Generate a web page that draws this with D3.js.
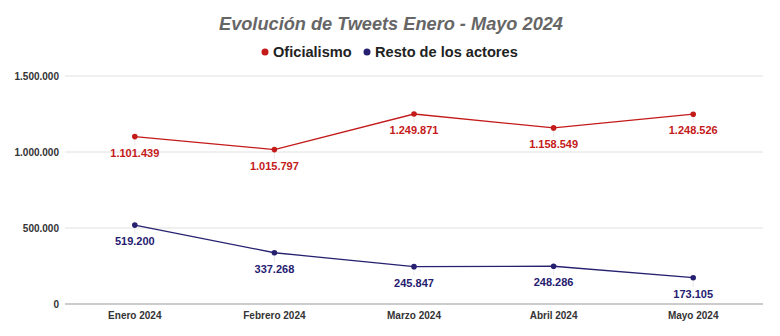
<!DOCTYPE html>
<html>
<head>
<meta charset="utf-8">
<script src="https://cdn.jsdelivr.net/npm/d3@7"></script>
<style>
  body { margin: 0; background: #fff; }
  svg { display: block; font-family: "Liberation Sans", Arial, sans-serif; }
</style>
</head>
<body>
<div id="chart"></div>
<script>
"use strict";

var months = ["Enero 2024", "Febrero 2024", "Marzo 2024", "Abril 2024", "Mayo 2024"];
var oficialismo = [1101439, 1015797, 1249871, 1158549, 1248526];
var restoActores = [519200, 337268, 245847, 248286, 173105];
var yTicks = [0, 500000, 1000000, 1500000];

var series = [
    { name: "Oficialismo", values: oficialismo, color: "#c41a1a" },
    { name: "Resto de los actores", values: restoActores, color: "#262070" }
];

var width = 780, height = 336;
var margin = { top: 76, right: 17, bottom: 32, left: 65 };

var svg = d3.select("#chart").append("svg")
    .attr("width", width)
    .attr("height", height);

// thousands separator with dots
var fmt = function (v) {
    return d3.format(",")(v).replace(/,/g, ".");
};

var x = d3.scaleBand()
    .domain(months)
    .range([margin.left, width - margin.right]);

var y = d3.scaleLinear()
    .domain([0, 1500000])
    .range([height - margin.bottom, margin.top]);

var cx = function (i) { return x(months[i]) + x.bandwidth() / 2; };

// title
svg.append("text")
    .attr("x", 391)
    .attr("y", 30)
    .attr("text-anchor", "middle")
    .attr("font-size", 18.2)
    .attr("font-weight", "bold")
    .attr("font-style", "italic")
    .attr("fill", "#666")
    .text("Evolución de Tweets Enero - Mayo 2024");

// legend
var legendItems = [
    { name: "Oficialismo", x: 265, color: "#c41a1a" },
    { name: "Resto de los actores", x: 367, color: "#262070" }
];
var lg = svg.selectAll("g.legend").data(legendItems).enter().append("g")
    .attr("class", "legend")
    .attr("transform", function (d) { return "translate(" + d.x + ",52)"; });
lg.append("circle").attr("r", 3.5).attr("fill", function (d) { return d.color; });
lg.append("text")
    .attr("x", 8)
    .attr("y", 5)
    .attr("font-size", 14.6)
    .attr("font-weight", "bold")
    .attr("fill", "#222")
    .text(function (d) { return d.name; });

// gridlines + y labels
var grid = svg.append("g");
grid.selectAll("line").data(yTicks).enter().append("line")
    .attr("x1", margin.left)
    .attr("x2", width - margin.right)
    .attr("y1", function (d) { return y(d); })
    .attr("y2", function (d) { return y(d); })
    .attr("stroke", function (d) { return d === 0 ? "#bbb" : "#e0e0e0"; })
    .attr("stroke-width", function (d) { return d === 0 ? 1.5 : 1; });
grid.selectAll("text").data(yTicks).enter().append("text")
    .attr("x", margin.left - 6)
    .attr("y", function (d) { return y(d) + 4; })
    .attr("text-anchor", "end")
    .attr("font-size", 10)
    .attr("font-weight", "bold")
    .attr("fill", "#333")
    .text(fmt);

// x axis labels
svg.append("g").selectAll("text").data(months).enter().append("text")
    .attr("x", function (d, i) { return cx(i); })
    .attr("y", height - margin.bottom + 15)
    .attr("text-anchor", "middle")
    .attr("font-size", 10)
    .attr("font-weight", "bold")
    .attr("fill", "#333")
    .text(function (d) { return d; });

var line = d3.line()
    .x(function (d, i) { return cx(i); })
    .y(function (d) { return y(d); });

series.forEach(function (s) {
    var g = svg.append("g");
    // faint leaders from point to value label
    g.selectAll("line.lead").data(s.values).enter().append("line")
        .attr("x1", function (d, i) { return cx(i); })
        .attr("x2", function (d, i) { return cx(i); })
        .attr("y1", function (d) { return y(d); })
        .attr("y2", function (d) { return y(d) + 9; })
        .attr("stroke", "#e8e8e8");
    g.append("path")
        .datum(s.values)
        .attr("fill", "none")
        .attr("stroke", s.color)
        .attr("stroke-width", 1.3)
        .attr("d", line);
    g.selectAll("circle").data(s.values).enter().append("circle")
        .attr("cx", function (d, i) { return cx(i); })
        .attr("cy", function (d) { return y(d); })
        .attr("r", 2.8)
        .attr("fill", s.color);
    g.selectAll("text").data(s.values).enter().append("text")
        .attr("x", function (d, i) { return cx(i); })
        .attr("y", function (d) { return y(d) + 20; })
        .attr("text-anchor", "middle")
        .attr("font-size", 11)
        .attr("font-weight", "bold")
        .attr("fill", s.color)
        .text(fmt);
});
</script>
</body>
</html>
